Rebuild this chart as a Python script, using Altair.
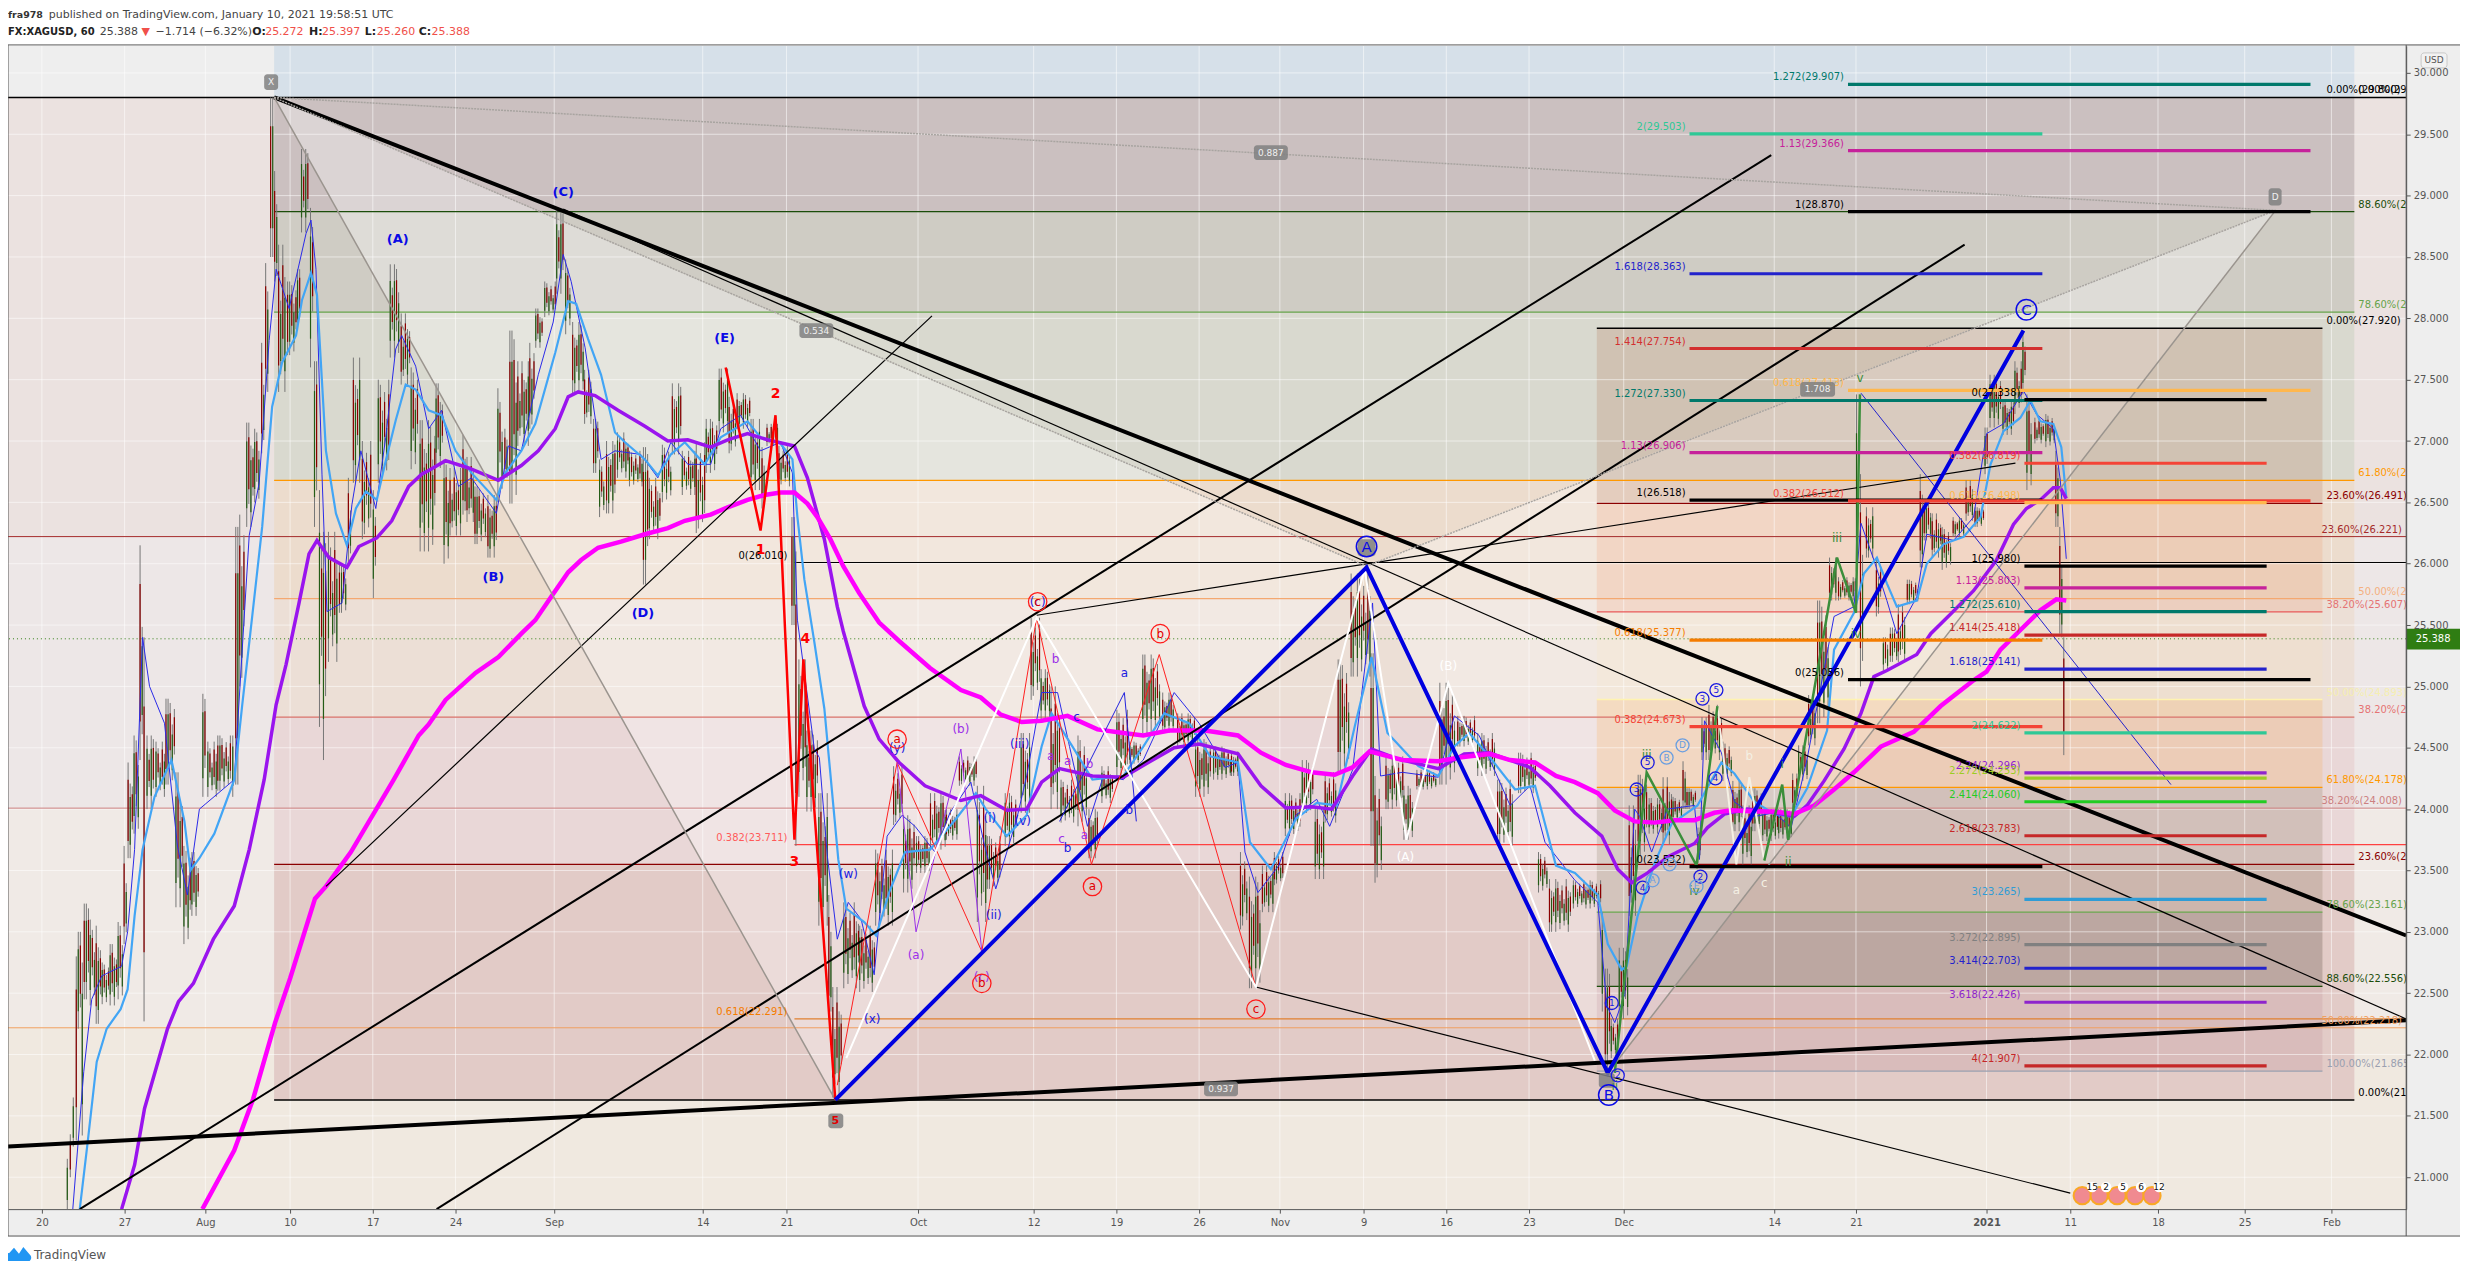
import altair as alt
import pandas as pd

FONT = "DejaVu Sans"
W, H = 2406, 1167
XMIN, XMAX, PMIN, PMAX = 8, 2414, 20.74, 30.22

# ---- axes -------------------------------------------------------------
X_TICKS = [42,125,206,291,374,457,556,705,789,921,1037,1120,1203,1284,1368,1451,1534,1629,1780,1862,1993,2077,2165,2252,2339]
X_LABELS = ["20","27","Aug","10","17","24","Sep","14","21","Oct","12","19","26","Nov","9","16","23","Dec","14","21","2021","11","18","25","Feb"]
P_TICKS = [21,21.5,22,22.5,23,23.5,24,24.5,25,25.5,26,26.5,27,27.5,28,28.5,29,29.5,30]

# ---- background bands: top, bottom, colour ------------------------------
WHOLE_BANDS = [(30.22,29.8,"#eeeeee"),(29.8,26.221,"#ebe2e0"),(26.221,24.008,"#ede7e7"),(24.008,22.218,"#f0eae6"),(22.218,20.74,"#f0e9e0")]
MAIN_BANDS = [(30.22,29.8,"#d6e0e9"),(29.8,28.87,"#cbc0c0"),(28.87,28.05,"#cfccc4"),(28.05,26.68,"#d9d9cf"),(26.68,25.715,"#ecdccd"),(25.715,24.75,"#ecdfd6"),(24.75,23.55,"#e9d7d7"),(23.55,21.63,"#e2cbc7")]
SECOND_BANDS = [(27.92,26.491,"#b07050",.22),(26.491,25.607,"#f27a3a",.15),(25.607,24.893,"#ffe0a0",.10),(24.893,24.178,"#ff9000",.15),(24.178,23.161,"#4a3a10",.14),(23.161,22.556,"#2a1a0a",.20),(22.556,21.865,"#8c3a5a",.10)]

# ---- horizontal levels: price, x1, x2, colour, width --------------------
FIB_LINES = [
 (29.80,8,2414,"#000000",1.5),(28.87,275,2362,"#1b4d0a",1.2),(28.05,275,2362,"#66a34a",1.2),(26.68,275,2362,"#ff9800",1.2),
 (25.715,275,2362,"#f4a870",1.2),(24.75,275,2362,"#d9736b",1.2),(23.55,275,2362,"#8b0000",1.2),(21.63,275,2362,"#000000",1.5),
 (26.221,8,2414,"#a52a2a",1),(24.008,8,2414,"#cc8080",1),(22.218,8,2414,"#f0a060",1),
 (27.92,1602,2330,"#000000",1.5),(26.491,1602,2330,"#8b0000",1.2),(25.607,1602,2330,"#e85a5a",1.2),(24.893,1602,2330,"#fff3b0",1.5),
 (24.178,1602,2330,"#ff9800",1.2),(23.161,1602,2330,"#6aa84f",1.2),(22.556,1602,2330,"#1b4d0a",1.2),(21.865,1602,2330,"#9aa0b0",1.2),
 (26.01,797,2414,"#000000",1.2),(23.711,797,2414,"#ff4040",1.2),(22.291,797,2414,"#e08030",1.2),
]
# ---- extension tools: price, label, colour ------------------------------
EXT_A = [(29.503,"2(29.503)","#2ec896"),(28.363,"1.618(28.363)","#2222cc"),(27.754,"1.414(27.754)","#d32f2f"),(27.330,"1.272(27.330)","#00796b"),(26.906,"1.13(26.906)","#c6219b"),(26.518,"1(26.518)","#000000"),(25.377,"0.618(25.377)","#f57c00"),(24.673,"0.382(24.673)","#f44336"),(23.532,"0(23.532)","#000000")]
EXT_B = [(29.907,"1.272(29.907)","#00796b"),(29.366,"1.13(29.366)","#c6219b"),(28.870,"1(28.870)","#000000"),(27.413,"0.618(27.413)","#ffb74d"),(26.512,"0.382(26.512)","#f44336"),(25.056,"0(25.056)","#000000")]
EXT_C = [(27.338,"0(27.338)","#000000"),(26.819,"0.382(26.819)","#f44336"),(26.498,"0.618(26.498)","#ffb74d"),(25.980,"1(25.980)","#000000"),(25.803,"1.13(25.803)","#c6219b"),(25.610,"1.272(25.610)","#00796b"),(25.418,"1.414(25.418)","#c62828"),(25.141,"1.618(25.141)","#2222cc"),(24.622,"2(24.622)","#2ec896"),(24.296,"2.24(24.296)","#8e24cc"),(24.253,"2.272(24.253)","#9ccc24"),(24.060,"2.414(24.060)","#22cc22"),(23.783,"2.618(23.783)","#c62828"),(23.265,"3(23.265)","#2e9cd6"),(22.895,"3.272(22.895)","#808080"),(22.703,"3.414(22.703)","#2222cc"),(22.426,"3.618(22.426)","#8e24cc"),(21.907,"4(21.907)","#c62828")]
EXT_SPANS = [(1695,2049,EXT_A),(1854,2318,EXT_B),(2031,2274,EXT_C)]

# ---- right-hand percentage labels: x, price, text, colour --------------
RIGHT_LABELS = [
 (2334,29.80,"0.00%(29.800)","#000000"),(2366,29.80,"0.00%(29.800)","#000000"),(2366,28.87,"88.60%(28.870)","#1b4d0a"),(2366,28.05,"78.60%(28.053)","#66a34a"),
 (2366,26.68,"61.80%(26.680)","#ff9800"),(2366,25.715,"50.00%(25.715)","#f4b080"),(2366,24.75,"38.20%(24.751)","#e57373"),(2366,23.55,"23.60%(23.560)","#8b0000"),(2366,21.63,"0.00%(21.630)","#000000"),
 (2334,27.92,"0.00%(27.920)","#000000"),(2334,26.491,"23.60%(26.491)","#8b0000"),(2334,25.607,"38.20%(25.607)","#e57373"),(2334,24.893,"50.00%(24.893)","#f5eeb0"),
 (2334,24.178,"61.80%(24.178)","#ff9800"),(2334,23.161,"78.60%(23.161)","#66a34a"),(2334,22.556,"88.60%(22.556)","#1b4d0a"),(2334,21.865,"100.00%(21.865)","#9aa0b0"),
 (2329,26.221,"23.60%(26.221)","#a52a2a"),(2329,24.008,"38.20%(24.008)","#cc8080"),(2329,22.218,"50.00%(22.218)","#f0a060"),
]
LEFT_LABELS = [(790,23.711,"0.382(23.711)","#ff5a5a"),(790,22.291,"0.618(22.291)","#f57c00"),(790,26.01,"0(26.010)","#000000")]

# ---- price groups: x1, x2, high, low ------------------------------------
CANDLES_JUL = [(67,70,21.15,20.74),(70,73,21.35,21.0),(73,76,21.65,21.25),(76,78,22.8,21.3),(78,82,23.0,22.21),(82,84,22.75,21.34),(84,90,23.23,22.45),(90,96,23.1,22.4),(96,102,23.05,22.25),(102,110,22.75,22.41),(110,118,22.9,22.4),(118,124,23.08,22.45),(124,128,23.7,22.9),(128,134,24.38,23.6),(134,140,24.6,23.8),(140,144,26.15,24.4),(144,147,25.4,22.27),(147,156,24.6,24.0),(156,166,24.55,24.1),(166,176,24.9,24.2),(176,184,24.3,23.2),(184,192,23.7,22.9),(192,201,23.65,23.13),(203,208,24.94,24.1),(208,218,24.55,24.1),(218,233,24.6,24.15)]
CANDLES_AUG = [(233,236,24.6,24.1),(236,240,26.3,24.2),(240,247,26.4,25.0),(247,255,27.15,26.3),(255,262,27.1,26.5),(262,266,27.8,26.9),(266,271,28.45,27.4),(271,275,29.8,28.5),(275,279,29.2,28.3),(279,288,28.6,27.4),(288,298,28.3,27.7),(298,302,28.4,27.9),(302,311,29.38,28.7),(311,315,28.9,27.6),(315,320,27.65,26.3),(320,324,26.6,24.67),(324,329,26.26,24.4),(329,340,26.26,25.2),(340,349,26.0,25.6),(349,354,26.7,26.0),(354,363,27.68,26.66),(363,374,27.0,26.2),(374,379,26.6,25.72),(379,391,27.5,26.66),(391,402,28.44,27.68),(402,412,28.04,27.46),(412,421,27.6,26.77),(421,437,27.17,26.1),(437,445,27.47,26.78),(445,451,26.85,26.0),(451,464,26.78,26.23),(464,468,27.05,26.4),(468,476,26.87,26.34),(476,489,26.63,26.16),(489,499,26.56,26.05),(499,506,27.43,26.5),(506,511,27.1,26.7),(511,519,27.9,26.49),(519,531,27.65,26.96),(531,537,27.8,27.1)]
CANDLES_SEP = [(537,546,28.08,27.76),(546,558,28.3,28.01),(558,567,28.89,28.2),(567,574,28.48,27.87),(574,586,27.97,27.39),(586,595,27.58,27.14),(595,601,27.18,26.74),(601,608,26.85,26.38),(608,619,27.0,26.41),(619,631,27.07,26.7),(631,645,26.92,26.63),(645,651,26.95,25.83),(651,664,26.7,26.2),(664,674,26.97,26.5),(674,684,27.47,26.89),(684,698,26.92,26.56),(698,708,26.99,26.25),(708,721,27.18,26.74),(721,731,27.59,27.07),(731,739,27.36,26.9),(739,753,27.39,27.1),(753,764,27.18,26.6),(764,769,26.95,26.45),(769,781,27.14,26.96),(781,794,26.96,26.63),(794,798,26.38,25.5),(798,801,26.1,23.7),(801,809,25.22,24.1),(809,821,24.64,23.98),(821,831,24.13,23.05),(831,835,23.3,22.3),(835,846,22.55,21.65)]
CANDLES_OCT = [(846,862,23.24,22.54),(862,878,23.05,22.51),(878,896,23.67,23.05),(896,906,24.35,23.87),(906,919,23.95,23.32),(919,933,23.78,23.48),(933,949,24.13,23.67),(949,962,24.0,23.75),(962,980,24.43,24.19),(980,990,24.19,23.08),(990,1005,23.78,23.35),(1008,1020,24.13,23.7),(1024,1034,24.62,23.97),(1034,1044,25.56,24.89),(1044,1054,25.14,24.73),(1054,1064,25.0,24.0),(1064,1081,24.24,23.89),(1081,1092,24.6,23.86),(1092,1102,24.0,23.6),(1105,1118,24.35,24.05),(1120,1133,24.81,24.24),(1133,1146,24.55,24.37),(1146,1164,25.26,24.62),(1166,1179,24.95,24.62),(1181,1199,24.78,24.51),(1199,1215,24.57,24.1),(1217,1235,24.51,24.24)]
CANDLES_NOV = [(1235,1244,24.47,24.27),(1244,1253,23.65,23.02),(1253,1266,23.45,22.54),(1266,1278,23.54,23.16),(1278,1289,23.65,23.38),(1289,1306,24.13,23.78),(1306,1319,24.4,23.97),(1319,1329,24.0,23.43),(1329,1342,24.3,23.89),(1342,1355,25.22,24.3),(1355,1375,25.92,25.08),(1375,1379,25.27,23.7),(1379,1388,24.27,23.4),(1390,1408,24.43,24.0),(1408,1419,24.19,23.75),(1421,1442,24.32,24.16),(1444,1460,25.03,24.2),(1462,1480,24.76,24.51),(1482,1500,24.62,24.27),(1502,1518,24.24,23.7),(1523,1541,24.46,24.13),(1543,1554,23.65,23.32),(1554,1577,23.43,23.0),(1578,1607,23.42,23.19)]
CANDLES_DEC = [(1607,1610,23.16,22.35),(1610,1616,22.7,21.85),(1616,1624,22.29,21.97),(1624,1634,22.87,22.29),(1634,1643,24.03,23.13),(1643,1653,24.28,23.62),(1654,1668,24.09,23.8),(1668,1678,24.26,23.71),(1678,1688,24.1,23.9),(1688,1692,24.39,24.0),(1692,1703,24.17,24.0),(1703,1707,23.85,23.56),(1707,1714,24.75,24.4),(1714,1728,24.85,24.4),(1728,1738,24.55,24.23),(1738,1748,24.23,23.82),(1748,1758,24.03,23.55),(1758,1768,24.17,23.82),(1768,1784,24.0,23.74),(1784,1798,24.0,23.76),(1798,1804,24.29,24.0),(1804,1814,24.52,24.23),(1814,1823,24.93,24.52),(1823,1835,25.7,24.7),(1835,1844,26.05,25.7),(1844,1862,25.89,25.7),(1862,1865,27.38,25.62),(1866,1871,26.73,25.0),(1872,1881,26.46,26.05),(1882,1889,26.03,25.57),(1889,1896,25.4,25.13),(1896,1904,25.48,25.2)]
CANDLES_JAN = [(1904,1913,25.67,25.2),(1913,1926,25.87,25.67),(1926,1930,26.73,25.97),(1930,1938,26.51,26.19),(1938,1948,26.41,26.05),(1948,1958,26.3,25.95),(1959,1971,26.38,26.22),(1972,1981,26.68,26.35),(1981,1991,26.46,26.3),(1991,1996,27.11,26.73),(1996,2008,27.54,27.11),(2009,2021,27.33,27.05),(2021,2029,27.65,27.22),(2029,2033,27.9,27.38),(2033,2039,27.38,26.6),(2041,2051,27.19,26.98),(2052,2062,27.22,26.95),(2062,2067,26.92,26.3),(2066,2068,26.3,25.43),(2068,2070,25.98,25.4),(2070,2072,25.4,24.44)]
CANDLES = CANDLES_JUL + CANDLES_AUG + CANDLES_SEP + CANDLES_OCT + CANDLES_NOV + CANDLES_DEC + CANDLES_JAN
# how far each column inside a group stops short of its low and high
COLUMN_TRIM = [(0,0),(.28,.05),(.05,.3),(.35,.12),(.12,.38),(.22,0),(0,.22),(.3,.25)]

# ---- moving averages: x, price -----------------------------------------
MA_MAGENTA = [(203,20.74),(235,21.22),(254,21.64),(276,22.26),(291,22.62),(316,23.27),(327,23.37),(352,23.65),(395,24.24),(420,24.6),(430,24.69),(447,24.89),(477,25.11),(500,25.24),(523,25.43),(537,25.54),(553,25.73),(570,25.93),(583,26.03),(600,26.13),(623,26.18),(647,26.24),(670,26.29),(687,26.35),(713,26.4),(730,26.46),(750,26.52),(767,26.56),(783,26.58),(797,26.58),(810,26.49),(820,26.38),(833,26.2),(846,25.98),(862,25.76),(882,25.52),(902,25.37),(933,25.15),(964,24.97),(984,24.91),(1004,24.77),(1025,24.71),(1045,24.72),(1071,24.76),(1101,24.65),(1127,24.62),(1147,24.6),(1173,24.64),(1209,24.64),(1242,24.6),(1265,24.46),(1290,24.36),(1316,24.3),(1339,24.28),(1357,24.34),(1374,24.47),(1407,24.4),(1443,24.39),(1464,24.42),(1494,24.45),(1515,24.4),(1540,24.38),(1561,24.27),(1580,24.22),(1603,24.13),(1620,23.99),(1640,23.9),(1660,23.89),(1680,23.91),(1700,23.91),(1720,23.97),(1737,23.99),(1760,23.98),(1780,23.98),(1800,23.96),(1820,24.03),(1840,24.16),(1860,24.3),(1887,24.51),(1920,24.63),(1947,24.84),(1980,25.05),(1993,25.12),(2007,25.3),(2027,25.46),(2047,25.62),(2063,25.71),(2073,25.7)]
MA_PURPLE = [(122,20.74),(135,21.1),(145,21.56),(168,22.21),(179,22.43),(194,22.58),(214,22.94),(235,23.21),(250,23.67),(265,24.24),(277,24.85),(287,25.18),(300,25.68),(310,26.08),(318,26.19),(330,26.05),(348,25.97),(360,26.14),(378,26.21),(393,26.35),(410,26.63),(423,26.73),(430,26.76),(447,26.84),(470,26.78),(500,26.68),(523,26.8),(540,26.92),(557,27.1),(570,27.36),(580,27.4),(597,27.37),(620,27.25),(647,27.12),(670,27.0),(690,27.01),(713,26.95),(730,27.01),(750,27.06),(770,27.01),(797,26.96),(810,26.7),(827,26.2),(840,25.65),(846,25.45),(867,24.84),(882,24.57),(902,24.38),(928,24.19),(964,24.07),(984,24.11),(1010,23.99),(1030,24.0),(1045,24.22),(1063,24.33),(1096,24.27),(1127,24.26),(1152,24.38),(1178,24.5),(1203,24.53),(1242,24.45),(1265,24.19),(1290,24.01),(1316,24.02),(1336,24.0),(1357,24.27),(1376,24.49),(1402,24.41),(1443,24.33),(1469,24.45),(1494,24.46),(1535,24.34),(1555,24.19),(1580,23.97),(1607,23.78),(1623,23.51),(1637,23.4),(1653,23.48),(1673,23.61),(1700,23.72),(1713,23.85),(1730,23.96),(1753,24.0),(1780,23.97),(1800,23.94),(1813,24.03),(1830,24.23),(1850,24.49),(1867,24.78),(1880,25.08),(1893,25.13),(1923,25.26),(1937,25.43),(1957,25.59),(1980,25.78),(2003,26.03),(2020,26.32),(2033,26.45),(2047,26.52),(2060,26.62),(2067,26.62),(2073,26.53)]
MA_LIGHT = [(80,20.74),(88,21.29),(97,21.94),(107,22.21),(121,22.37),(128,22.53),(135,23.13),(143,23.67),(155,24.1),(172,24.4),(185,23.9),(191,23.5),(200,23.6),(215,23.8),(235,24.24),(243,24.85),(253,25.57),(263,26.3),(273,27.28),(283,27.64),(297,27.86),(303,28.15),(312,28.37),(318,28.19),(327,26.92),(337,26.41),(348,26.15),(357,26.45),(367,26.59),(378,26.52),(387,26.84),(397,27.17),(407,27.46),(417,27.42),(430,27.25),(443,27.21),(457,26.92),(473,26.74),(498,26.52),(507,26.74),(523,26.92),(537,27.14),(557,27.72),(570,28.14),(578,28.12),(590,27.83),(603,27.54),(617,27.07),(627,26.99),(647,26.85),(660,26.72),(673,26.89),(687,26.99),(707,26.81),(723,27.03),(750,27.16),(763,27.03),(783,26.98),(795,26.85),(800,26.38),(807,25.87),(817,25.36),(827,24.82),(841,23.59),(849,23.19),(867,23.08),(879,22.97),(892,23.32),(908,23.65),(933,23.67),(959,23.92),(979,24.13),(989,24.0),(1010,23.78),(1030,23.95),(1045,24.51),(1055,24.78),(1076,24.51),(1096,24.24),(1127,24.27),(1147,24.51),(1168,24.78),(1193,24.7),(1214,24.43),(1242,24.38),(1254,23.73),(1275,23.51),(1300,23.92),(1321,24.05),(1341,24.03),(1359,24.67),(1376,25.24),(1392,24.62),(1423,24.35),(1443,24.27),(1459,24.51),(1474,24.62),(1494,24.43),(1520,24.16),(1540,24.19),(1561,23.54),(1580,23.48),(1603,23.3),(1613,22.9),(1627,22.69),(1632,22.72),(1643,23.13),(1660,23.56),(1677,23.88),(1703,24.03),(1727,24.38),(1740,24.29),(1760,24.06),(1780,23.96),(1797,23.94),(1813,24.17),(1833,24.64),(1840,25.3),(1860,25.6),(1870,25.92),(1883,26.05),(1893,25.84),(1903,25.65),(1923,25.7),(1933,26.0),(1950,26.16),(1970,26.22),(1987,26.38),(1997,26.81),(2010,27.08),(2027,27.19),(2037,27.33),(2047,27.16),(2060,27.14),(2068,26.95),(2073,26.54)]
MA_BLUE = [(73,20.74),(84,21.86),(92,22.45),(102,22.64),(122,22.72),(128,23.0),(135,23.67),(143,25.4),(150,25.0),(165,24.7),(178,23.7),(188,23.3),(200,24.0),(235,24.24),(250,26.23),(260,26.66),(270,27.82),(277,28.4),(290,28.08),(307,28.69),(312,28.8),(317,28.4),(323,26.73),(328,25.61),(343,25.68),(353,26.48),(362,26.92),(377,26.45),(387,27.03),(397,27.75),(403,27.86),(417,27.61),(430,27.1),(443,27.25),(460,26.63),(473,26.7),(498,26.41),(510,26.96),(523,26.92),(540,27.54),(555,27.97),(565,28.52),(573,28.3),(587,27.76),(603,26.85),(617,26.92),(643,26.89),(660,26.7),(673,26.99),(690,26.81),(713,26.81),(723,27.1),(743,27.21),(763,26.92),(783,26.99),(795,26.74),(800,25.54),(817,24.49),(822,24.42),(830,23.62),(840,22.94),(851,23.24),(864,23.1),(877,22.65),(890,23.78),(905,23.95),(918,23.86),(938,23.65),(953,23.97),(974,24.22),(987,23.73),(999,23.35),(1020,23.92),(1030,24.27),(1045,24.95),(1061,24.95),(1073,24.51),(1091,23.86),(1107,24.27),(1127,24.24),(1147,24.4),(1178,24.95),(1203,24.7),(1229,24.34),(1242,24.38),(1249,23.65),(1262,23.32),(1283,23.54),(1300,23.95),(1321,24.08),(1334,23.86),(1357,24.32),(1377,25.68),(1385,24.27),(1407,24.3),(1443,24.26),(1459,24.76),(1484,24.6),(1515,24.03),(1535,24.19),(1550,23.73),(1580,23.42),(1603,23.24),(1612,22.4),(1620,22.26),(1630,22.49),(1640,24.0),(1645,23.94),(1657,23.65),(1673,24.0),(1700,24.03),(1705,23.59),(1710,24.72),(1727,24.46),(1740,24.06),(1760,23.94),(1780,23.97),(1797,23.85),(1813,24.41),(1827,25.01),(1840,25.57),(1860,25.65),(1867,26.33),(1880,26.03),(1893,25.7),(1903,25.43),(1923,25.73),(1933,26.24),(1960,26.19),(1980,26.38),(1993,27.06),(2010,27.14),(2030,27.41),(2043,27.22),(2060,27.1),(2067,26.68),(2073,26.04)]

# ---- drawn lines: points, colour, width, dash ---------------------------
TRENDS = [
 ([(275,29.80),(2414,22.97)],"#000000",4,None),
 ([(8,21.25),(2414,22.28)],"#000000",4,None),
 ([(80,20.74),(1777,29.33)],"#000000",2,None),
 ([(438,20.74),(1971,28.6)],"#000000",2,None),
 ([(327,23.37),(935,28.02)],"#000000",1.2,None),
 ([(565,28.89),(2414,22.29)],"#000000",1.2,None),
 ([(1040,25.58),(2022,26.82)],"#000000",1.2,None),
 ([(1260,22.55),(2077,20.87)],"#000000",1.2,None),
 ([(275,29.80),(838,21.63)],"#9a948e",1.5,None),
 ([(1613,21.85),(2283,28.88)],"#9a948e",1.5,None),
 ([(275,29.80),(1371,25.98)],"#a8a4a0",1.5,[2,1]),
 ([(838,21.63),(1371,25.98)],"#a8a4a0",1.5,None),
 ([(275,29.80),(2283,28.88)],"#a8a4a0",1.5,[2,1]),
 ([(1371,25.98),(2283,28.88)],"#a8a4a0",1.5,[2,1]),
 ([(1867,27.39),(2178,24.2)],"#2222cc",1,None),
 ([(840,21.75),(900,24.38),(985,22.84),(1040,25.56),(1095,23.55),(1163,25.26),(1260,22.55)],"#ff2020",1,None),
 ([(900,24.38),(919,23.0),(964,24.49),(985,22.84)],"#9b30e8",1,None),
 ([(1063,23.9),(1128,24.95),(1140,23.9)],"#2222dd",1,None),
 ([(849,21.97),(1040,25.56),(1260,22.55),(1369,25.96),(1411,23.75),(1453,25.03),(1600,21.95)],"#ffffff",2,None),
 ([(1723,24.84),(1742,23.55),(1755,24.26),(1770,23.58)],"#f4f0e4",2,None),
 ([(1620,21.85),(1652,24.3),(1702,23.54),(1723,24.84)],"#3b8e3b",2.5,None),
 ([(1770,23.58),(1788,24.2),(1794,23.75),(1843,26.05),(1862,25.6),(1866,27.38)],"#3b8e3b",2.5,None),
 ([(728,27.6),(763,26.27),(778,27.21),(797,23.75),(806,25.22),(838,21.63)],"#ff0000",2.5,None),
 ([(838,21.63),(1371,25.97),(1613,21.85),(2030,27.9)],"#0000e0",4,None),
]
# triangles: x, upper price, lower price
TRI_XAB = [(275,29.80,29.80),(838,27.83,21.63),(1371,25.98,25.98)]
TRI_BCD = [(1371,25.98,25.98),(1613,26.76,21.85),(2283,28.88,28.88)]

# ---- grey chips: x1, x2, top price, bottom price, text -------------------
CHIPS = [(1258,1292,29.41,29.29,"0.887"),(802,836,27.96,27.84,"0.534"),(1208,1242,21.78,21.66,"0.937"),(1806,1841,27.48,27.36,"1.708"),(265,279,29.99,29.86,"X"),(2276,2289,29.06,28.92,"D"),(1604,1620,21.85,21.73,""),(831,846,21.52,21.40,""),(1362,1380,26.2,26.06,"")]

# ---- wave labels: text, x, price, colour --------------------------------
BIG_BLUE = [("(A)",399,28.65),("(C)",565,29.03),("(E)",727,27.84),("(B)",495,25.89),("(D)",645,25.6)]
RED_NUM = [("2",778,27.38),("1",763,26.11),("4",808,25.39),("3",797,23.57)]
SMALL = [
 ("(b)",964,24.65,"#9b30e8"),("(a)",919,22.81,"#9b30e8"),("b",1059,25.22,"#9b30e8"),("a",1054,24.43,"#9b30e8"),("a",1071,24.39,"#9b30e8"),("b",1093,24.37,"#9b30e8"),("c",1065,23.76,"#9b30e8"),("a",1088,23.79,"#9b30e8"),("(c)",985,22.63,"#9b30e8"),
 ("a",1128,25.11,"#1a1ae0"),("b",1133,23.99,"#1a1ae0"),("b",1071,23.68,"#1a1ae0"),("c",1080,24.75,"#1a1ae0"),("(iii)",1023,24.53,"#1a1ae0"),("(i)",993,23.93,"#1a1ae0"),("(v)",1026,23.9,"#1a1ae0"),("(ii)",997,23.14,"#1a1ae0"),("(w)",851,23.47,"#1a1ae0"),("(x)",875,22.29,"#1a1ae0"),("(y)",900,24.5,"#1a1ae0"),("(c)",1041,25.69,"#1a1ae0"),
 ("iii",1652,24.44,"#3b8e3b"),("iv",1700,23.33,"#3b8e3b"),("i",1788,24.37,"#3b8e3b"),("ii",1794,23.57,"#3b8e3b"),("iii",1843,26.21,"#3b8e3b"),("iv",1862,25.43,"#3b8e3b"),("v",1866,27.51,"#3b8e3b"),("ii",1620,21.74,"#3b8e3b"),
 ("a",1742,23.34,"#f4f0e4"),("b",1755,24.43,"#f4f0e4"),("c",1770,23.4,"#f4f0e4"),("(A)",1410,23.61,"#ffffff"),("(B)",1453,25.17,"#ffffff"),
]
RED_CIRCLES = [("a",900,24.57),("c",1041,25.69),("b",1164,25.43),("a",1096,23.37),("b",985,22.58),("c",1260,22.37)]
BLUE_NUMS = [("3",1642,24.16),("5",1653,24.38),("4",1648,23.36),("2",1706,23.45),("4",1721,24.25),("3",1708,24.9),("5",1722,24.97),("1",1617,22.42),("2",1623,21.83)]
LIGHT_NUMS = [("B",1672,24.42),("D",1688,24.52),("A",1658,23.42),("C",1675,23.55),("E",1702,23.37)]
BIG_CIRCLES = [("A",1371,26.14),("B",1614,21.67),("C",2033,28.07)]
FLAG_X = [2089,2106,2124,2142,2159]
FLAG_NUM_X = [2099,2113,2130,2148,2166]
FLAG_TEXT = ["15","2","5","6","12"]
LAST_PRICE = 25.388

XS = alt.Scale(domain=[XMIN, XMAX], nice=False, zero=False)
YS = alt.Scale(domain=[PMIN, PMAX], nice=False, zero=False)

# every layer carries the same axis: one layer with axis=None would switch it off for all
expr_lbl = "[" + ",".join(f"'{s}'" for s in X_LABELS) + "][indexof([" + ",".join(str(v) for v in X_TICKS) + "],datum.value)]"
X_AXIS = alt.Axis(values=X_TICKS, labelExpr=expr_lbl, title=None, grid=False, tickSize=4, tickColor="#555555",
            domainColor="#555555", labelColor="#555555", labelFont=FONT, labelFontSize=10, labelPadding=4, zindex=5, labelFlush=False, labelOverlap=False,
            labelFontWeight={"expr": "datum.value==1993?'bold':'normal'"})
Y_AXIS = alt.Axis(orient="right", values=P_TICKS, format=".3f", title=None, grid=False, tickSize=4, tickColor="#555555",
            domainColor="#555555", labelColor="#555555", labelFont=FONT, labelFontSize=10, labelPadding=3, zindex=5, labelOverlap=False)
X_ = lambda f="x": alt.X(f"{f}:Q", scale=XS, axis=X_AXIS)
Y_ = lambda f="p": alt.Y(f"{f}:Q", scale=YS, axis=Y_AXIS)
ONE = pd.DataFrame({"k": [0]})
layers = []

def rects(rows):
    df = pd.DataFrame(rows, columns=["x1","x2","top","bot","col","op"])
    return alt.Chart(df).mark_rect(clip=True).encode(
        x=X_("x1"), x2="x2:Q", y=Y_("top"), y2="bot:Q",
        color=alt.Color("col:N", scale=None), opacity=alt.Opacity("op:Q", scale=None))

def line(pts, color, width, dash=None, opacity=1):
    df = pd.DataFrame(pts, columns=["x","p"])
    kw = dict(color=color, strokeWidth=width, opacity=opacity, clip=True)
    if dash: kw["strokeDash"] = dash
    return alt.Chart(df).mark_line(**kw).encode(x=X_(), y=Y_())

def texts(rows, size, dy=0, align="center", clip=False, weight="normal"):
    df = pd.DataFrame(rows, columns=["t","x","p","col"])
    return alt.Chart(df).mark_text(font=FONT, fontSize=size, dy=dy, align=align, clip=clip, fontWeight=weight, baseline="middle").encode(
        x=X_(), y=Y_(), text="t:N", color=alt.Color("col:N", scale=None))

def circles(rows, size, color, width=1.3):
    df = pd.DataFrame(rows, columns=["t","x","p"])
    return alt.Chart(df).mark_point(size=size, color=color, strokeWidth=width, filled=False, shape="circle", opacity=1).encode(x=X_(), y=Y_())

def px_text(t, x, y, color="#444444", size=11, weight="normal", align="left"):
    return alt.Chart(ONE).mark_text(text=t, font=FONT, fontSize=size, fontWeight=weight, color=color, align=align, baseline="middle").encode(
        x=alt.value(x - 8), y=alt.value(y - 44))

# bands
layers.append(rects([(XMIN, XMAX, a, b, c, 1) for a, b, c in WHOLE_BANDS]))
layers.append(rects([(275, 2362, a, b, c, 1) for a, b, c in MAIN_BANDS]))
for tri in (TRI_XAB, TRI_BCD):
    df = pd.DataFrame(tri, columns=["x","p","p2"])
    layers.append(alt.Chart(df).mark_area(color="#ffffff", opacity=.32, clip=True).encode(x=X_(), y=Y_(), y2="p2:Q"))
layers.append(rects([(1602, 2330, a, b, c, o) for a, b, c, o in SECOND_BANDS]))

# white grid, visible through the bands
layers.append(alt.Chart(pd.DataFrame({"x": X_TICKS})).mark_rule(color="#ffffff", opacity=.55, strokeWidth=1).encode(x=X_()))
layers.append(alt.Chart(pd.DataFrame({"p": P_TICKS})).mark_rule(color="#ffffff", opacity=.55, strokeWidth=1).encode(y=Y_()))

# price levels
df = pd.DataFrame(FIB_LINES, columns=["p","x1","x2","col","w"])
layers.append(alt.Chart(df).mark_rule().encode(x=X_("x1"), x2="x2:Q", y=Y_(), color=alt.Color("col:N", scale=None), strokeWidth=alt.StrokeWidth("w:Q", scale=None)))
layers.append(alt.Chart(pd.DataFrame({"p": [LAST_PRICE]})).mark_rule(color="#2f7d13", strokeDash=[1,3], strokeWidth=1).encode(y=Y_()))

# candles: every read group drawn as thin columns with a dark body
rows = []
k = 0
for x1, x2, hi, lo in CANDLES:
    h = hi - lo
    x = x1 + .5
    first = True
    while x <= max(x2 - .5, x1 + .5):
        a, b = (0, 0) if first else COLUMN_TRIM[k % len(COLUMN_TRIM)]
        first = False
        top, bot = hi - b * h, lo + a * h
        d = top - bot
        rows.append((x, top, bot, top - .18 * d, bot + .18 * d, "#8b0000" if k % 2 else "#245c16"))
        k += 1
        x += 2.1
cd = pd.DataFrame(rows, columns=["x","hi","lo","bt","bb","col"])
layers.append(alt.Chart(cd).mark_rule(color="#767676", strokeWidth=1, clip=True).encode(x=X_(), y=Y_("hi"), y2="lo:Q"))
layers.append(alt.Chart(cd).mark_rule(strokeWidth=1.2, clip=True).encode(x=X_(), y=Y_("bt"), y2="bb:Q", color=alt.Color("col:N", scale=None)))

# moving averages
layers.append(line(MA_BLUE, "#2a2ae8", 1))
layers.append(line(MA_LIGHT, "#42a5f5", 2.2))
layers.append(line(MA_PURPLE, "#9a14ee", 3.5))
layers.append(line(MA_MAGENTA, "#ff00ff", 4.5))

# trend lines and drawn waves
for pts, col, w, dash in TRENDS:
    layers.append(line(pts, col, w, dash))

# extension tools
for x1, x2, ext in EXT_SPANS:
    df = pd.DataFrame([(p, x1, x2, c) for p, _, c in ext], columns=["p","x1","x2","col"])
    layers.append(alt.Chart(df).mark_rule(strokeWidth=3.2).encode(x=X_("x1"), x2="x2:Q", y=Y_(), color=alt.Color("col:N", scale=None)))
    layers.append(texts([(t, x1 - 4, p, c) for p, t, c in ext], 10, dy=-7, align="right"))

# percentage labels at the right, tool labels in the middle
layers.append(texts([(t, x, p, c) for x, p, t, c in RIGHT_LABELS], 10, dy=-7, align="left", clip=True))
layers.append(texts([(t, x, p, c) for x, p, t, c in LEFT_LABELS], 10, dy=-7, align="right"))

# chips
chips = pd.DataFrame(CHIPS, columns=["x1","x2","top","bot","t"])
chips["x"] = (chips.x1 + chips.x2) / 2
chips["p"] = (chips.top + chips.bot) / 2
layers.append(alt.Chart(chips).mark_rect(color="#808080", opacity=.85, cornerRadius=3).encode(x=X_("x1"), x2="x2:Q", y=Y_("top"), y2="bot:Q"))
layers.append(alt.Chart(chips).mark_text(font=FONT, fontSize=9, color="#f0f0f0").encode(x=X_(), y=Y_(), text="t:N"))

# wave labels
layers.append(texts([(t, x, p, "#0a0ae6") for t, x, p in BIG_BLUE], 13, weight="bold"))
layers.append(texts([(t, x, p, "#ff0000") for t, x, p in RED_NUM], 14, weight="bold"))
layers.append(texts([("5", 838, 21.46, "#e00000")], 11, weight="bold"))
layers.append(texts(SMALL, 12))
layers.append(circles(RED_CIRCLES, 340, "#ff1a1a"))
layers.append(texts([(t, x, p, "#e00000") for t, x, p in RED_CIRCLES], 12))
layers.append(circles(BLUE_NUMS, 170, "#1a1ae0"))
layers.append(texts([(t, x, p, "#1a1ae0") for t, x, p in BLUE_NUMS], 9))
layers.append(circles(LIGHT_NUMS, 170, "#6a9ee0"))
layers.append(texts([(t, x, p, "#6a9ee0") for t, x, p in LIGHT_NUMS], 9))
layers.append(circles(BIG_CIRCLES, 420, "#0a0ae6", 1.5))
layers.append(texts([(t, x, p, "#0a0ae6") for t, x, p in BIG_CIRCLES], 15))

# economic calendar flags
fl = pd.DataFrame({"x": FLAG_X, "p": [20.85] * 5})
layers.append(alt.Chart(fl).mark_point(size=300, filled=True, fill="#f08a90", stroke="#f9a825", strokeWidth=2, opacity=1, shape="circle").encode(x=X_(), y=Y_()))
nm = pd.DataFrame({"x": FLAG_NUM_X, "p": [20.92] * 5, "t": FLAG_TEXT})
layers.append(alt.Chart(nm).mark_point(size=110, filled=True, color="#ffffff", opacity=1, shape="circle").encode(x=X_(), y=Y_()))
layers.append(alt.Chart(nm).mark_text(font=FONT, fontSize=9, color="#111111").encode(x=X_(), y=Y_(), text="t:N"))

# axis panels, frame, header
layers.append(alt.Chart(ONE).mark_rect(color="#eeeeee").encode(x=alt.value(W), x2=alt.value(W + 54), y=alt.value(-1), y2=alt.value(H + 27)))
layers.append(alt.Chart(ONE).mark_rect(color="#eeeeee").encode(x=alt.value(0), x2=alt.value(W), y=alt.value(H), y2=alt.value(H + 27)))
for enc in [dict(x=alt.value(0), x2=alt.value(W + 54), y=alt.value(-1)),
            dict(x=alt.value(0), x2=alt.value(W + 54), y=alt.value(H + 27)),
            dict(x=alt.value(0), y=alt.value(-1), y2=alt.value(H + 27)),
            dict(x=alt.value(W), y=alt.value(-1), y2=alt.value(H + 27))]:
    layers.append(alt.Chart(ONE).mark_rule(color="#555555", strokeWidth=1).encode(**enc))

# last price tag and USD button
layers.append(alt.Chart(pd.DataFrame({"p": [25.47], "p2": [25.30]})).mark_rect(color="#2f7d13").encode(x=alt.value(W), x2=alt.value(W + 54), y=Y_(), y2="p2:Q"))
layers.append(alt.Chart(pd.DataFrame({"p": [LAST_PRICE]})).mark_text(text="25.388", font=FONT, fontSize=10, color="#ffffff").encode(x=alt.value(W + 27), y=Y_()))
layers.append(alt.Chart(ONE).mark_rect(color="#f2f2f2", stroke="#c8c8c8", cornerRadius=3).encode(x=alt.value(2429 - 8), x2=alt.value(2455 - 8), y=alt.value(7), y2=alt.value(22)))
layers.append(px_text("USD", 2442, 58, "#555555", 9, align="center"))

RED = "#f0504a"
header = [("fra978", 8, 13, "#333333", "bold", 9.5), ("published on TradingView.com, January 10, 2021 19:58:51 UTC", 49, 13, "#444444", "normal", 11),
          ("FX:XAGUSD, 60", 8, 30, "#222222", "bold", 10), ("25.388", 100, 30, "#444444", "normal", 11), ("▼", 142, 30, RED, "normal", 11),
          ("−1.714 (−6.32%)", 156, 30, "#444444", "normal", 11), ("O:", 253, 30, "#222222", "bold", 11), ("25.272", 266, 30, RED, "normal", 11),
          ("H:", 310, 30, "#222222", "bold", 11), ("25.397", 323, 30, RED, "normal", 11), ("L:", 366, 30, "#222222", "bold", 11), ("25.260", 378, 30, RED, "normal", 11),
          ("C:", 420, 30, "#222222", "bold", 11), ("25.388", 433, 30, RED, "normal", 11)]
for t, x, y, c, w, s in header:
    layers.append(px_text(t, x, y, c, s, w))
layers.append(px_text("TradingView", 34, 1257, "#555555", 12))
LOGO = "M-1,0.6 A0.35,0.35 0 0 1 -0.8,-0.1 L-0.4,-0.55 L0,-0.05 L0.35,-0.6 L0.95,0.1 A0.35,0.35 0 0 1 0.7,0.6 Z"
layers.append(alt.Chart(ONE).mark_point(shape=LOGO, filled=True, color="#2196f3", size=620, opacity=1).encode(x=alt.value(11), y=alt.value(1212.5)))

chart = alt.layer(*layers).properties(
    width=W, height=H,
    autosize=alt.AutoSizeParams(type="none"),
    padding={"top": 36, "left": 0, "right": 54, "bottom": 50},
    background="#ffffff",
).configure_view(stroke=None)

chart.save("out.html", embed_options={"renderer": "svg", "actions": False})
